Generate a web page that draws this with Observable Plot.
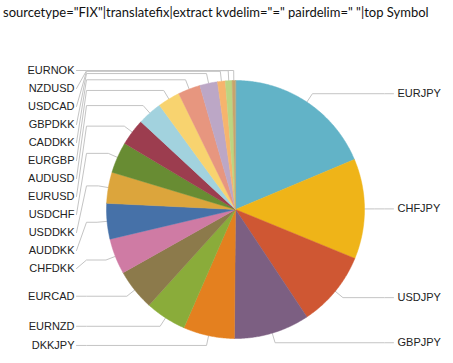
<!DOCTYPE html>
<html><head><meta charset="utf-8">
<script src="https://cdn.jsdelivr.net/npm/d3@7"></script>
<script src="https://cdn.jsdelivr.net/npm/@observablehq/plot@0.6"></script>
<style>
body{margin:0;background:#fff;}
#title{font-family:Lato,"Open Sans",sans-serif;font-size:13px;color:#111;height:24px;line-height:24px;padding-left:3px;white-space:nowrap;}
</style></head><body>
<div id="title">sourcetype="FIX"|translatefix|extract kvdelim="=" pairdelim=" "|top Symbol</div>
<div id="chart"></div>
<script>
const symbols = ["EURJPY","CHFJPY","USDJPY","GBPJPY","DKKJPY","EURNZD","EURCAD","CHFDKK","AUDDKK","USDDKK","USDCHF","EURUSD","AUDUSD","EURGBP","CADDKK","GBPDKK","USDCAD","NZDUSD","EURNOK"];
const counts = [134,90,68,68,46,37,37,32,32,28,28,24,22,20,20,16,7,6,3];
const colors = ["#62b3c7","#efb418","#cf5733","#7c5f82","#e4801f","#8aac3a","#8c7a4b","#cf7ba4","#4671a8","#dca53c","#688c33","#9c3d4f","#a2d2de","#f8d36f","#e7967f","#bca7c6","#f6b46d","#bbd582","#c8a46c"];

// layout (pixels of the svg)
const W = 453, H = 339, CX = 235, CY = 185, R = 129;
const px = v => (v - CX) / R;       // pixel x -> unit
const py = v => (CY - v) / R;       // pixel y -> unit
const conn = 1 + 10 / R;            // connector break radius
const gap = 18 / R;                 // min label spacing

const arcs = d3.pie().sort(null).value(d => d.count)(symbols.map((s, i) => ({name: s, count: counts[i]})));

const slicePts = [];
arcs.forEach(a => {
  const n = Math.max(2, Math.ceil((a.endAngle - a.startAngle) / (Math.PI / 360)));
  slicePts.push({name: a.data.name, x: 0, y: 0});
  for (let k = 0; k <= n; k++) {
    const t = a.startAngle + (a.endAngle - a.startAngle) * k / n;
    slicePts.push({name: a.data.name, x: Math.sin(t), y: Math.cos(t)});
  }
});

const labels = arcs.map(a => {
  const m = (a.startAngle + a.endAngle) / 2;
  return {name: a.data.name, m, left: m > Math.PI, yNat: conn * Math.cos(m)};
});
function distribute(list) {
  list.sort((a, b) => b.yNat - a.yNat);
  let prev = py(24) + gap;
  list.forEach(l => { l.ly = Math.min(l.yNat, prev - gap); prev = l.ly; });
}
distribute(labels.filter(l => l.left));
distribute(labels.filter(l => !l.left));

const linePts = [];
labels.forEach(l => {
  const ax = l.left ? px(76) : px(393);
  const bx = l.left ? px(86) : px(384);
  linePts.push({name: l.name, x: ax, y: l.ly});
  linePts.push({name: l.name, x: bx, y: l.yNat});
  linePts.push({name: l.name, x: conn * Math.sin(l.m), y: l.yNat});
  linePts.push({name: l.name, x: Math.sin(l.m), y: Math.cos(l.m)});
});

const chart = Plot.plot({
  width: W, height: H, margin: 0,
  style: {background: "white"},
  x: {domain: [px(0), px(W)], axis: null},
  y: {domain: [py(H), py(0)], axis: null},
  color: {domain: symbols, range: colors},
  marks: [
    Plot.line(linePts, {x: "x", y: "y", z: "name", stroke: "#c4c4c4", strokeWidth: 1}),
    Plot.line(slicePts, {x: "x", y: "y", z: "name", fill: "name", stroke: "name", strokeWidth: 0.5, curve: "linear-closed"}),
    Plot.text(labels.filter(l => l.left), {x: px(74), y: "ly", text: "name", textAnchor: "end", fontSize: 11, fontFamily: "Liberation Sans, Arial, sans-serif", fill: "#222"}),
    Plot.text(labels.filter(l => !l.left), {x: px(397), y: "ly", text: "name", textAnchor: "start", fontSize: 11, fontFamily: "Liberation Sans, Arial, sans-serif", fill: "#222"})
  ]
});
document.getElementById("chart").appendChild(chart);
</script>
</body></html>
